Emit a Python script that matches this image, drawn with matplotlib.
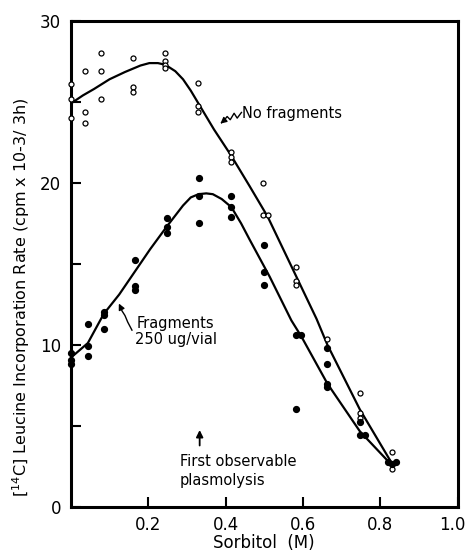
import matplotlib
matplotlib.use("Agg")
import matplotlib.pyplot as plt
from matplotlib.transforms import ScaledTranslation

# open circles: no fragments
nofrag_x = [0, 0, 0, 0.037, 0.037, 0.037, 0.078, 0.078, 0.078, 0.16, 0.16, 0.16,
            0.244, 0.244, 0.244, 0.244, 0.328, 0.328, 0.328, 0.414, 0.414, 0.414,
            0.497, 0.497, 0.509, 0.581, 0.581, 0.581, 0.663, 0.747, 0.747, 0.747,
            0.829, 0.829]
nofrag_y = [26.1, 25.2, 24.0, 26.9, 24.4, 23.7, 28.0, 26.9, 25.2, 27.7, 25.9, 25.6,
            28.0, 27.5, 27.3, 27.1, 26.2, 24.75, 24.4, 21.9, 21.6, 21.3,
            20.0, 18.0, 18.0, 14.8, 13.95, 13.7, 10.35, 7.0, 5.75, 5.45,
            3.4, 2.3]

# filled circles: fragments 250 ug/vial
frag_x = [0, 0, 0, 0.044, 0.044, 0.044, 0.085, 0.085, 0.085, 0.165, 0.165, 0.165,
          0.248, 0.248, 0.248, 0.33, 0.33, 0.33, 0.415, 0.415, 0.415,
          0.498, 0.498, 0.498, 0.583, 0.596, 0.583, 0.663, 0.663, 0.663, 0.663,
          0.747, 0.747, 0.76, 0.82, 0.84, 0.829]
frag_y = [9.5, 9.07, 8.8, 11.3, 9.9, 9.3, 12.05, 11.85, 11.0, 15.25, 13.6, 13.35,
          17.8, 17.3, 16.9, 20.3, 19.2, 17.5, 19.2, 18.5, 17.9,
          16.15, 14.5, 13.7, 10.6, 10.6, 6.0, 9.8, 8.8, 7.6, 7.4,
          5.2, 4.4, 4.4, 2.76, 2.76, 2.6]

# hand drawn curves
nofrag_cx = [0.0, 0.031, 0.06, 0.1, 0.14, 0.18, 0.203, 0.225, 0.244, 0.27, 0.29,
             0.31, 0.33, 0.37, 0.414, 0.462, 0.509, 0.581, 0.635, 0.663, 0.747, 0.829]
nofrag_cy = [24.9, 25.4, 25.8, 26.4, 26.85, 27.25, 27.4, 27.4, 27.3, 26.9, 26.4,
             25.7, 24.9, 23.3, 21.7, 19.8, 17.9, 14.3, 11.6, 10.0, 6.0, 2.7]
frag_cx = [0.005, 0.044, 0.085, 0.125, 0.165, 0.205, 0.248, 0.29, 0.31, 0.33, 0.35,
           0.367, 0.39, 0.415, 0.44, 0.462, 0.514, 0.57, 0.596, 0.663, 0.747, 0.824]
frag_cy = [9.3, 10.1, 11.9, 13.1, 14.5, 15.9, 17.3, 18.6, 19.1, 19.3, 19.35,
           19.3, 19.0, 18.5, 17.5, 16.5, 14.2, 11.5, 10.5, 7.6, 4.65, 2.7]

fig = plt.figure(figsize=(4.69, 5.53), dpi=100)
ax = fig.add_axes([0.151, 0.084, 0.825, 0.878])

ax.plot(nofrag_cx, nofrag_cy, color='black', lw=1.6)
ax.plot(frag_cx, frag_cy, color='black', lw=1.6)
ax.plot(nofrag_x, nofrag_y, 'o', mfc='white', mec='black', mew=0.9, ms=3.6,
        clip_on=False, zorder=3)
ax.plot(frag_x, frag_y, 'o', color='black', ms=4.2, clip_on=False, zorder=3)

ax.set_xlim(0, 1.0)
ax.set_ylim(0, 30)
ax.set_xticks([0.2, 0.4, 0.6, 0.8, 1.0])
ax.set_xticklabels(['0.2', '0.4', '0.6', '0.8', '1.0'])
ax.set_yticks([0, 5, 10, 15, 20, 25, 30])
ax.set_yticklabels(['0', '', '10', '', '20', '', '30'])
ax.tick_params(direction='in', length=7, width=1.5, labelsize=12, pad=7)
for s in ax.spines.values():
    s.set_linewidth(2.2)

# keep "1.0" inside the figure
last = ax.get_xticklabels()[-1]
last.set_transform(last.get_transform() + ScaledTranslation(-4 / 72, 0, fig.dpi_scale_trans))

ax.set_xlabel('Sorbitol  (M)', fontsize=12, labelpad=0)
ax.set_ylabel('[$^{14}$C] Leucine Incorporation Rate (cpm x 10-3/ 3h)', fontsize=11.5)
ax.yaxis.set_label_coords(-0.1, 0.43)

# annotations
ax.text(0.442, 24.3, 'No fragments', fontsize=10.5, va='center')
ax.plot([0.441, 0.43, 0.422, 0.412, 0.404, 0.394], [24.35, 24.0, 24.3, 23.9, 24.1, 23.8],
        color='black', lw=1)
ax.annotate('', xy=(0.381, 23.55), xytext=(0.396, 23.85),
            arrowprops=dict(arrowstyle='-|>', color='black', lw=1, mutation_scale=9))

ax.text(0.271, 10.8, 'Fragments\n250 ug/vial', fontsize=10.5, ha='center', va='center',
        linespacing=1.1)
ax.plot([0.158, 0.147, 0.14, 0.132, 0.13], [10.9, 11.4, 11.8, 12.1, 12.3],
        color='black', lw=1)
ax.annotate('', xy=(0.121, 12.7), xytext=(0.131, 12.2),
            arrowprops=dict(arrowstyle='-|>', color='black', lw=1, mutation_scale=9))

ax.text(0.282, 2.2, 'First observable\nplasmolysis', fontsize=10.5, ha='left',
        va='center', linespacing=1.3)
ax.annotate('', xy=(0.333, 4.9), xytext=(0.333, 3.6),
            arrowprops=dict(arrowstyle='-|>', color='black', lw=1.3, mutation_scale=10))

fig.savefig('out.png', dpi=100)
